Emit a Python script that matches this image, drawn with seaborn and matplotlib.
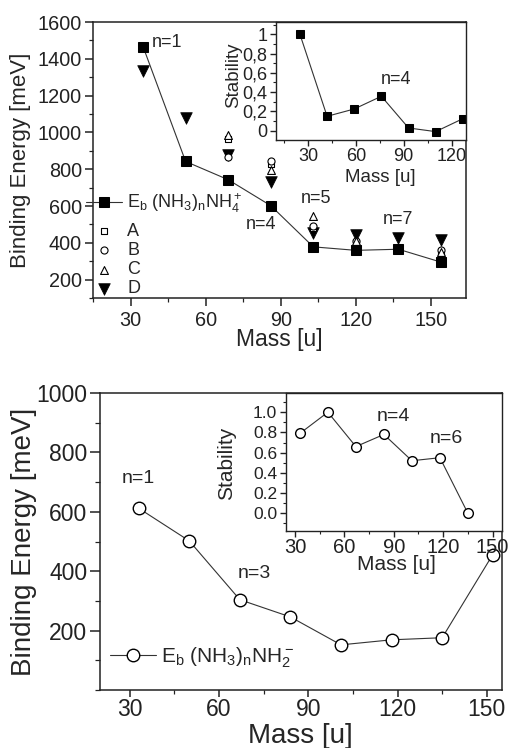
import matplotlib
matplotlib.use("Agg")
import matplotlib.pyplot as plt
from matplotlib.ticker import MultipleLocator
import seaborn as sns

# (NH3)n NH4+ clusters, top panel
mass_cat = [35, 52, 69, 86, 103, 120, 137, 154]
eb_cat = [1466, 842, 743, 602, 378, 359, 365, 295]
eb_d = [1334, 1077, 878, 730, 455, 444, 426, 415]
mass_abc = [69, 86, 103, 120, 154]
eb_a = [965, 826, 480, 403, 338]
eb_b = [868, 843, 490, 410, 360]
eb_c = [985, 797, 544, 410, 350]
# stability inset, top
mass_stab_cat = [25, 42, 59, 76, 93, 110, 127]
stab_cat = [1.0, 0.149, 0.225, 0.357, 0.028, -0.01, 0.124]
stab_cat_ticks = [0, 0.2, 0.4, 0.6, 0.8, 1]
stab_cat_labels = ["0", "0,2", "0,4", "0,6", "0,8", "1"]

# (NH3)n NH2- clusters, bottom panel
mass_an = [33, 50, 67, 84, 101, 118, 135, 152]
eb_an = [612, 502, 304, 246, 152, 169, 176, 456]
# stability inset, bottom
mass_stab_an = [33, 50, 67, 84, 101, 118, 135]
stab_an = [0.79, 1.0, 0.66, 0.78, 0.52, 0.55, 0.0]
stab_an_ticks = [0.0, 0.2, 0.4, 0.6, 0.8, 1.0]
stab_an_labels = ["0.0", "0.2", "0.4", "0.6", "0.8", "1.0"]

sns.set_style("ticks")
plt.rcParams["font.family"] = ["Liberation Sans", "DejaVu Sans"]
plt.rcParams["mathtext.fontset"] = "custom"
plt.rcParams["mathtext.rm"] = "Liberation Sans"
plt.rcParams["mathtext.it"] = "Liberation Sans:italic"
plt.rcParams["axes.edgecolor"] = "#222222"
plt.rcParams["xtick.color"] = "#222222"
plt.rcParams["ytick.color"] = "#222222"

LC = "#333333"
W, H = 510, 748
fig = plt.figure(figsize=(W / 100, H / 100), dpi=100)


def box(l, t, r, b):
    return [l / W, 1 - b / H, (r - l) / W, (b - t) / H]


def style(ax, fs, maj=6, mnr=3, lw=1.1, pad=2):
    for s in ax.spines.values():
        s.set_visible(True)
        s.set_linewidth(lw)
    ax.tick_params(which="major", direction="out", length=maj, width=lw, labelsize=fs, pad=pad)
    ax.tick_params(which="minor", direction="out", length=mnr, width=lw * 0.8)
    ax.set_facecolor("white")


def labels(ax, xl, yl, fx, fy, xpos, ypos):
    ax.set_xlabel(xl, fontsize=fx)
    ax.set_ylabel(yl, fontsize=fy)
    ax.xaxis.set_label_coords(*xpos)
    ax.yaxis.set_label_coords(*ypos)
    ax.xaxis.label.set_va("center")
    ax.yaxis.label.set_va("center")


# ---------------- top panel ----------------
ax1 = fig.add_axes(box(93, 22, 466, 298))
sns.lineplot(x=mass_cat, y=eb_cat, ax=ax1, color=LC, lw=0.8, marker="s", markersize=7,
             markerfacecolor="black", markeredgecolor="black",
             label=r"$\mathrm{E_b\ (NH_3)_nNH_4^+}$")
sns.scatterplot(x=mass_abc, y=eb_a, ax=ax1, marker="s", s=22, facecolor="white",
                edgecolor="black", linewidth=0.8, label="A", zorder=4)
sns.scatterplot(x=mass_abc, y=eb_b, ax=ax1, marker="o", s=26, facecolor="white",
                edgecolor="black", linewidth=0.8, label="B", zorder=4)
sns.scatterplot(x=mass_abc, y=eb_c, ax=ax1, marker="^", s=32, facecolor="white",
                edgecolor="black", linewidth=0.8, label="C", zorder=4)
sns.scatterplot(x=mass_cat, y=eb_d, ax=ax1, marker="v", s=70, color="black",
                edgecolor="black", linewidth=0.5, label="D", zorder=3)
ax1.set_xlim(15, 164)
ax1.set_ylim(100, 1600)
ax1.xaxis.set_major_locator(MultipleLocator(30))
ax1.xaxis.set_minor_locator(MultipleLocator(15))
ax1.set_yticks(range(200, 1601, 200))
ax1.yaxis.set_minor_locator(MultipleLocator(100))
style(ax1, 14.3, maj=6, mnr=3, pad=2)
ax1.tick_params(axis="x", pad=3)
labels(ax1, "Mass [u]", "Binding Energy [meV]", 16.5, 16, (0.5, -0.152), (-0.195, 0.5))

h, l = ax1.get_legend_handles_labels()
kw = dict(frameon=False, fontsize=13, handlelength=2.0, handletextpad=0.3,
          borderpad=0, borderaxespad=0, scatterpoints=1)
leg1 = ax1.legend(h[:1], l[:1], loc="center left", bbox_to_anchor=(-0.02, 0.344), **kw)
ax1.add_artist(leg1)
ax1.legend(h[1:], l[1:], loc="upper left", bbox_to_anchor=(-0.02, 0.272),
           labelspacing=0.12, **kw)
for tx, ty, s in [(44.5, 1490, "n=1"), (82, 500, "n=4"), (104, 640, "n=5"), (137, 526, "n=7")]:
    ax1.text(tx, ty, s, fontsize=13, ha="center", va="center")

ins1 = fig.add_axes(box(276, 22, 466, 140))
sns.lineplot(x=mass_stab_cat, y=stab_cat, ax=ins1, color=LC, lw=0.8, marker="s",
             markersize=5.5, markerfacecolor="black", markeredgecolor="black")
ins1.set_xlim(10, 129)
ins1.set_ylim(-0.097, 1.128)
ins1.xaxis.set_major_locator(MultipleLocator(30))
ins1.xaxis.set_minor_locator(MultipleLocator(15))
ins1.set_yticks(stab_cat_ticks)
ins1.set_yticklabels(stab_cat_labels)
ins1.yaxis.set_minor_locator(MultipleLocator(0.1))
style(ins1, 13, maj=4, mnr=2, lw=1.0, pad=2)
labels(ins1, "Mass [u]", "Stability", 13.5, 13.5, (0.55, -0.322), (-0.224, 0.55))
ins1.text(85, 0.53, "n=4", fontsize=13, ha="center", va="center")

# ---------------- bottom panel ----------------
ax2 = fig.add_axes(box(100, 393, 501.7, 690))
sns.lineplot(x=mass_an, y=eb_an, ax=ax2, color=LC, lw=0.8, marker="o", markersize=9,
             markerfacecolor="white", markeredgecolor="black", markeredgewidth=1.0,
             label=r"$\mathrm{E_b\ (NH_3)_nNH_2^-}$")
ax2.set_xlim(20, 155)
ax2.set_ylim(0, 1000)
ax2.xaxis.set_major_locator(MultipleLocator(30))
ax2.xaxis.set_minor_locator(MultipleLocator(15))
ax2.set_yticks(range(200, 1001, 200))
ax2.yaxis.set_minor_locator(MultipleLocator(100))
style(ax2, 16.5, maj=7, mnr=3.5, pad=2)
ax2.tick_params(axis="x", which="major", length=5, pad=1)
ax2.tick_params(axis="x", which="minor", length=3)
labels(ax2, "Mass [u]", "Binding Energy [meV]", 20, 20, (0.5, -0.155), (-0.19, 0.5))
ax2.legend(loc="upper left", bbox_to_anchor=(0.025, 0.15), frameon=False, fontsize=15,
           handlelength=2.2, handletextpad=0.25, borderpad=0, borderaxespad=0)
for tx, ty, s in [(33, 713, "n=1"), (72, 393, "n=3")]:
    ax2.text(tx, ty, s, fontsize=14, ha="center", va="center")

ins2 = fig.add_axes(box(285.7, 393, 501.7, 530.7))
sns.lineplot(x=mass_stab_an, y=stab_an, ax=ins2, color=LC, lw=0.8, marker="o",
             markersize=7, markerfacecolor="white", markeredgecolor="black",
             markeredgewidth=1.0)
ins2.set_xlim(24.4, 155.5)
ins2.set_ylim(-0.172, 1.19)
ins2.xaxis.set_major_locator(MultipleLocator(30))
ins2.xaxis.set_minor_locator(MultipleLocator(15))
ins2.set_yticks(stab_an_ticks)
ins2.set_yticklabels(stab_an_labels)
ins2.yaxis.set_minor_locator(MultipleLocator(0.1))
style(ins2, 12.5, maj=4, mnr=2, lw=1.0, pad=2)
ins2.tick_params(axis="x", labelsize=14.5, pad=1)
labels(ins2, "Mass [u]", "Stability", 15, 15, (0.514, -0.248), (-0.272, 0.49))
ins2.text(90, 0.96, "n=4", fontsize=14, ha="center", va="center")
ins2.text(122, 0.74, "n=6", fontsize=14, ha="center", va="center")

fig.savefig("out.png", dpi=100)
